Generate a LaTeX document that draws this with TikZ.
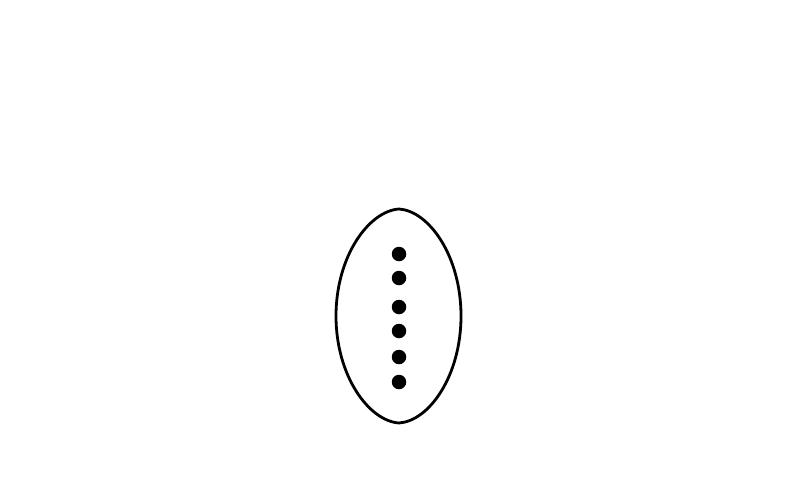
\documentclass[tikz,border=0pt]{standalone}
\begin{document}
\begin{tikzpicture}[x=1pt,y=-1pt,
  outline/.style={line width=2.8pt,line join=round},
  dotmark/.style={circle,fill=black,inner sep=0pt,minimum size=14.5pt}]
\useasboundingbox (0,0) rectangle (800,490);
\draw[outline] (399,209) .. controls (429,211) and (461,256) .. (461,316)
  .. controls (461,376) and (429,421) .. (399,423)
  .. controls (369,421) and (336,376) .. (336,316)
  .. controls (336,256) and (369,211) .. (399,209) -- cycle;
\node[dotmark] (d1) at (399,254) {};
\node[dotmark] (d2) at (399,278) {};
\node[dotmark] (d3) at (399,307) {};
\node[dotmark] (d4) at (399,331) {};
\node[dotmark] (d5) at (399,357) {};
\node[dotmark] (d6) at (399,382) {};
\end{tikzpicture}
\end{document}
